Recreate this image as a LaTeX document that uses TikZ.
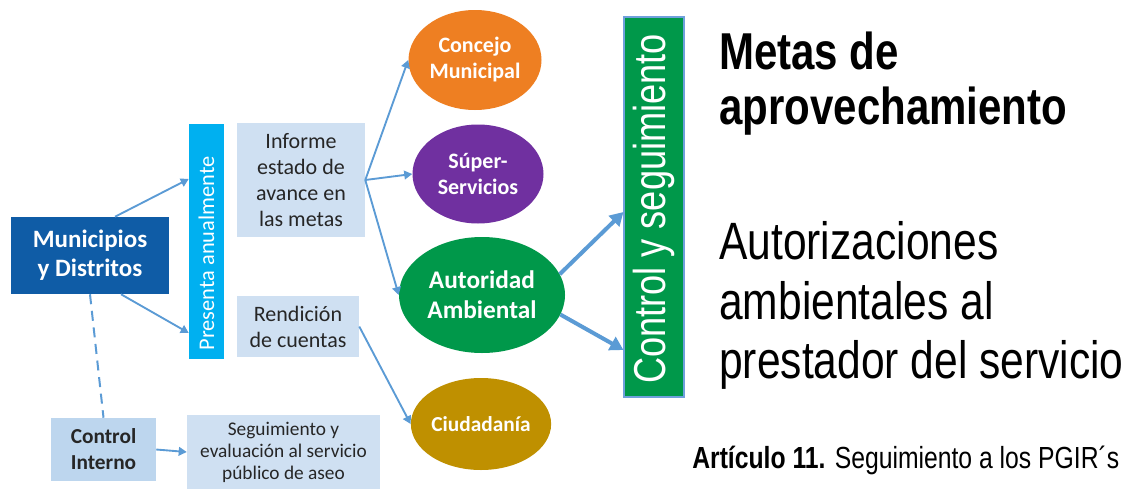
\documentclass[tikz,border=0pt]{standalone}
\usepackage{fontspec}
\setmainfont{Carlito}
\newfontfamily\narrowfont[FakeStretch=0.81]{Liberation Sans}
\usetikzlibrary{arrows.meta,shapes.geometric}
\definecolor{mundark}{HTML}{0F5CA6}
\definecolor{presblue}{HTML}{00B0F0}
\definecolor{lightbox}{HTML}{CFE0F2}
\definecolor{cibox}{HTML}{BDD6EE}
\definecolor{arrowblue}{HTML}{5B9BD5}
\definecolor{orangeC}{HTML}{EE7F22}
\definecolor{purpleS}{HTML}{7030A0}
\definecolor{greenA}{HTML}{00984A}
\definecolor{goldC}{HTML}{BF9000}
\definecolor{ctrlborder}{HTML}{6FA0DC}
\definecolor{txtdark}{HTML}{262626}
\tikzset{
  boxnode/.style={rectangle, inner sep=0pt, align=center, text=txtdark},
  ellnode/.style={ellipse, inner sep=0pt, align=center, text=white,
    font=\bfseries\fontsize{16.5}{19.5}\selectfont},
  arr/.style={draw=arrowblue, line width=1.4pt, -{Triangle[length=6pt,width=6.5pt]}},
  bigarr/.style={draw=arrowblue, line width=3pt, -{Triangle[length=10pt,width=11pt]}},
  dashline/.style={draw=arrowblue, line width=1.5pt, dash pattern=on 7.5pt off 5pt},
  titletext/.style={anchor=base west, inner sep=0pt, font=\narrowfont\bfseries\fontsize{38.9}{41.25}\selectfont},
  bodytext/.style={anchor=base west, inner sep=0pt, font=\narrowfont\fontsize{39.4}{44.6}\selectfont},
}
\begin{document}
\begin{tikzpicture}[x=0.75pt, y=-0.75pt]
\useasboundingbox (0,0) rectangle (1130,489);
\fill[white] (0,0) rectangle (1130,489);

% left boxes
\node[boxnode, fill=mundark, text=white, minimum width=158*0.75pt, minimum height=77*0.75pt,
  font=\bfseries\fontsize{18.75}{21.75}\selectfont] (mun) at (90,255.5) {Municipios\\y Distritos};
\node[boxnode, fill=presblue, text=white, minimum width=35*0.75pt, minimum height=235*0.75pt]
  (pres) at (206.5,241.5) {};
\node[text=white, rotate=90, font=\fontsize{16.8}{19.5}\selectfont, inner sep=0pt]
  (prestext) at (206.5,253.5) {Presenta anualmente};
\node[boxnode, fill=lightbox, minimum width=128*0.75pt, minimum height=114*0.75pt,
  font=\fontsize{16.5}{19.5}\selectfont] (inf) at (301,180) {Informe\\estado de\\avance en\\las metas};
\node[boxnode, fill=lightbox, minimum width=122*0.75pt, minimum height=61*0.75pt,
  font=\fontsize{16.5}{19.5}\selectfont] (ren) at (298,326.5) {Rendición\\de cuentas};
\node[boxnode, fill=cibox, minimum width=105*0.75pt, minimum height=63*0.75pt,
  font=\bfseries\fontsize{16}{19.5}\selectfont] (ci) at (103.5,449.5) {Control\\Interno};
\node[boxnode, fill=lightbox, minimum width=193*0.75pt, minimum height=74*0.75pt,
  font=\fontsize{14.5}{16.5}\selectfont] (seg) at (283.5,452) {Seguimiento y\\evaluación al servicio\\público de aseo};

% ellipses
\node[ellnode, fill=orangeC, minimum width=133*0.75pt, minimum height=100*0.75pt]
  (conc) at (475,60) {Concejo\\Municipal};
\node[ellnode, fill=purpleS, minimum width=131*0.75pt, minimum height=99*0.75pt]
  (sup) at (478,174) {Súper-\\Servicios};
\node[ellnode, fill=greenA, minimum width=166*0.75pt, minimum height=116*0.75pt,
  font=\bfseries\fontsize{19}{22.5}\selectfont] (aut) at (482,295) {Autoridad\\Ambiental};
\node[ellnode, fill=goldC, minimum width=132*0.75pt, minimum height=92*0.75pt,
  font=\bfseries\fontsize{16}{19.5}\selectfont] (ciu) at (481,424) {Ciudadanía};

% control bar
\node[rectangle, fill=greenA, draw=ctrlborder, line width=0.8pt, inner sep=0pt,
  minimum width=60*0.75pt, minimum height=380*0.75pt] (ctrl) at (654,207) {};
\node[text=white, rotate=90, inner sep=0pt, font=\narrowfont\fontsize{33.5}{38}\selectfont]
  (ctrltext) at (654,209) {Control y seguimiento};

% right texts
\node[titletext] (metas1) at (719,69) {Metas de};
\node[titletext] (metas2) at (719,124) {aprovechamiento};
\node[bodytext] (autz1) at (719,259) {Autorizaciones};
\node[bodytext] (autz2) at (719,319) {ambientales al};
\node[bodytext] (autz3) at (719,378) {prestador del servicio};
\node[anchor=base west, inner sep=0pt,
  font=\narrowfont\fontsize{22.9}{26}\selectfont] (art) at (692,468)
  {\textbf{Artículo 11.} Seguimiento a los PGIR´s};

% connectors
\draw[arr] ([xshift=18.75pt]mun.north) -- ([yshift=46.9pt]pres.west);
\draw[arr] ([xshift=23.25pt]mun.south) -- ([yshift=-68.6pt]pres.west);
\draw[dashline] (mun.south) -- (ci.north);
\draw[arr] (ci.east) -- (seg.west);
\draw[arr] (inf.east) -- (conc.west);
\draw[arr] (inf.east) -- (sup.west);
\draw[arr] (inf.east) -- (aut.west);
\draw[arr] (ren.east) -- (ciu.west);
\draw[bigarr] (aut.15) -- ([yshift=-3.75pt]ctrl.west);
\draw[bigarr] (aut.-14) -- ([yshift=-107.25pt]ctrl.west);
\end{tikzpicture}
\end{document}
